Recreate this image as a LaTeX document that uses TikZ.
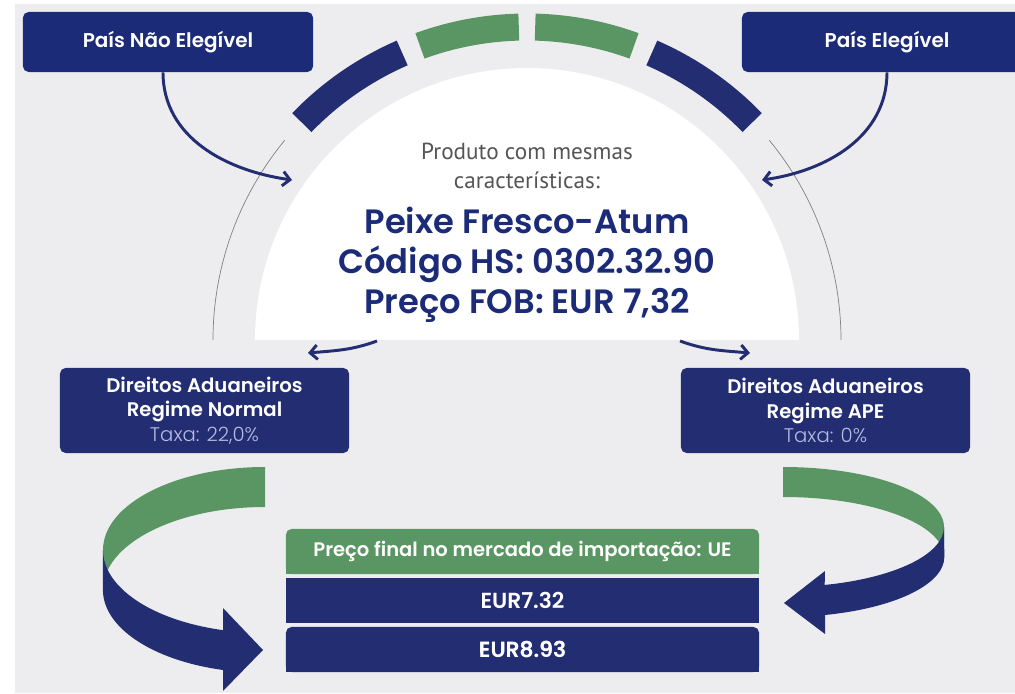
\documentclass[tikz,border=0pt]{standalone}
\usepackage{fontspec}
\setmainfont{Poppins}[BoldFont={Poppins SemiBold}]
\newfontfamily\ratefont{Poppins Light}
\newfontfamily\condfont{PT Sans}
\usetikzlibrary{arrows.meta}
\definecolor{navy}{HTML}{232D72}
\definecolor{boxblue}{HTML}{1B2B78}
\definecolor{leaf}{HTML}{5A9664}
\definecolor{paper}{HTML}{EDEDF0}
\definecolor{ratetxt}{HTML}{B3BCE3}
\definecolor{softgray}{HTML}{555555}

\begin{document}
\begin{tikzpicture}[x=0.025cm,y=0.025cm,
  country/.style={fill=boxblue,rounded corners=4pt,text=white,minimum width=7.25cm,minimum height=1.5cm,font=\bfseries\fontsize{14.2}{16}\selectfont},
  duty/.style={fill=navy,rounded corners=4pt,text=white,align=center,minimum width=7.225cm,minimum height=2.125cm,inner sep=0pt,font=\bfseries\fontsize{14}{17.5}\selectfont},
  header/.style={fill=leaf,rounded corners=4pt,text=white,minimum width=11.825cm,minimum height=1.125cm,font=\bfseries\fontsize{13.9}{15}\selectfont},
  price/.style={fill=navy,text=white,minimum width=11.825cm,minimum height=1.125cm,font=\bfseries\fontsize{15.5}{17}\selectfont},
  seg/.style={line width=0.675cm},
  guide/.style={draw=black!50,line width=0.5pt},
  flow/.style={draw=navy,line width=2.1pt,-{Straight Barb[length=0.18cm,width=0.36cm]}}]
\path[use as bounding box,clip] (0,0) rectangle (1015,693);
\fill[white] (0,0) rectangle (1015,693);
\fill[paper] (15,0) rectangle (1015,689);

% arch over the product
\coordinate (c) at (527,353);
\draw[guide] (c) ++(180:314) arc[start angle=180,end angle=140.5,radius=314];
\draw[guide] (c) ++(0:314) arc[start angle=0,end angle=39.5,radius=314];
\fill[white] (255,353) arc[start angle=180,end angle=0,radius=272] -- cycle;
\draw[seg,navy] (c) ++(136:313) arc[start angle=136,end angle=113.5,radius=313];
\draw[seg,leaf] (c) ++(110:313) arc[start angle=110,end angle=91.5,radius=313];
\draw[seg,leaf] (c) ++(88.5:313) arc[start angle=88.5,end angle=70,radius=313];
\draw[seg,navy] (c) ++(66.5:313) arc[start angle=66.5,end angle=44,radius=313];

% ribbons
\fill[leaf] (265,226) arc[start angle=90,end angle=180,x radius=162,y radius=83] -- (103,103)
  arc[start angle=180,end angle=90,x radius=162,y radius=83] -- cycle;
\fill[navy] (103,143) arc[start angle=180,end angle=255,x radius=162,y radius=83] -- (223,85) -- (263,43) -- (223,2) -- (223,23)
  arc[start angle=255,end angle=180,x radius=162,y radius=83] -- cycle;
\fill[leaf] (783,226) arc[start angle=90,end angle=0,x radius=161,y radius=60] -- (944,136)
  arc[start angle=0,end angle=90,x radius=161,y radius=60] -- cycle;
\fill[navy] (944,166) arc[start angle=0,end angle=-75,x radius=161,y radius=60] -- (825,122) -- (784,90) -- (825,59) -- (825,78)
  arc[start angle=-75,end angle=0,x radius=161,y radius=60] -- cycle;

\node[country] (pne) at (168,651) {País Não Elegível};
\node[country] (pe) at (887,651) {País Elegível};

\node[align=center,text=softgray,font=\condfont\fontsize{16.5}{20.6}\selectfont] (prod) at (527,527) {Produto com mesmas\\características:};
\node[align=center,text=boxblue,font=\bfseries\fontsize{24}{28.5}\selectfont] (fish) at (527,428) {Peixe Fresco-Atum\\Código HS: 0302.32.90\\Preço FOB: EUR 7,32};

\node[duty] (normal) at (204.5,282.5) {Direitos Aduaneiros\\Regime Normal\\{\ratefont\mdseries\color{ratetxt}Taxa: 22,0\%}};
\node[duty] (ape) at (825.5,282.5) {Direitos Aduaneiros\\Regime APE\\{\ratefont\mdseries\color{ratetxt}Taxa: 0\%}};

% final price table
\fill[leaf] (286,119) rectangle (759,135);
\fill[navy] (286,21) rectangle (759,40);
\node[header] (final) at (522.5,141.5) {Preço final no mercado de importação: UE};
\node[price] (eur1) at (522.5,92.5) {EUR7.32};
\node[price,rounded corners=4pt] (eur2) at (522.5,43.5) {EUR8.93};
\fill[navy] (286,21) rectangle (759,40);
\node[text=white,font=\bfseries\fontsize{15.5}{17}\selectfont] at (eur2) {EUR8.93};

\coordinate (la) at (292,513);
\coordinate (ra) at (762,513);
\coordinate (lb) at (377,352);
\coordinate (lt) at (308,340);
\coordinate (rb) at (680,352);
\coordinate (rt) at (750,340);

\path ([xshift=-0.125cm]pne.south) edge[flow,out=-90,in=172] (la)
      (pe.south)  edge[flow,out=-90,in=8]   (ra)
      (lb)        edge[flow,out=200,in=5]   (lt)
      (rb)        edge[flow,out=-20,in=175] (rt);
\end{tikzpicture}
\end{document}
